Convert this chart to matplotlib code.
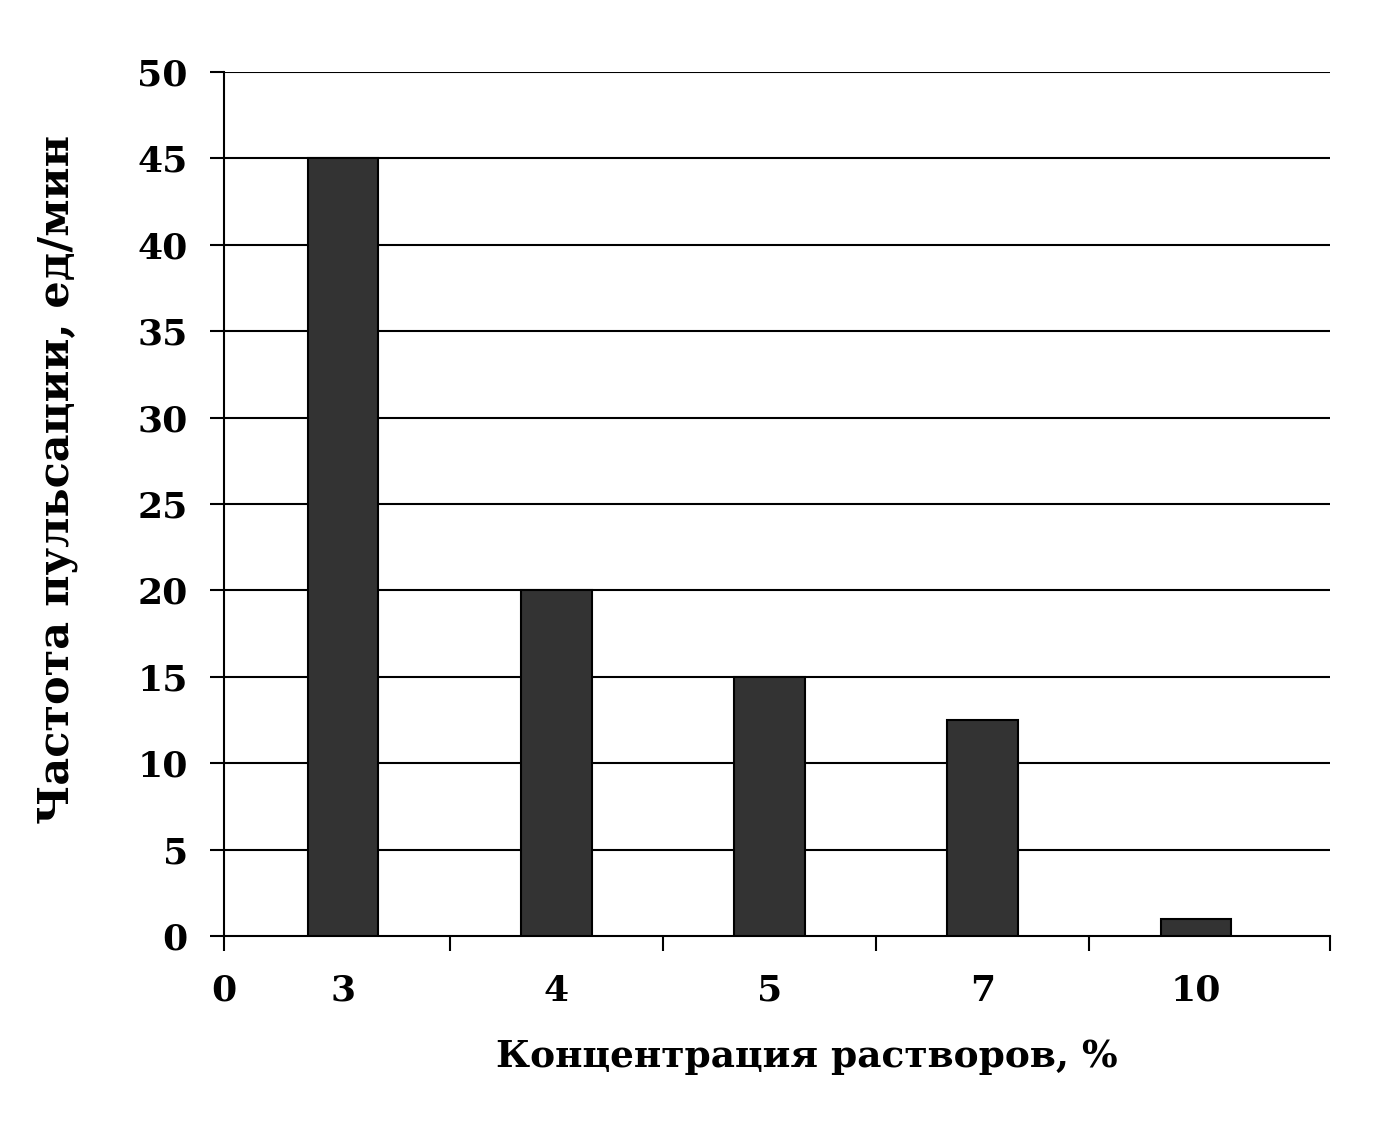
import numpy as np
import matplotlib
matplotlib.use('Agg')
import matplotlib.pyplot as plt

# Данные
концентрации = ['3', '4', '5', '7', '10']
частота = [45, 20, 15, 12.5, 1]
деления_y = list(range(0, 55, 5))

plt.rcParams['font.family'] = ['DejaVu Serif']

fig = plt.figure(figsize=(13.86, 11.35), dpi=100)
ax = fig.add_axes([0.1616, 0.1753, 0.9596 - 0.1616, 0.9366 - 0.1753])

x = np.arange(len(концентрации))
ax.bar(x, частота, width=0.33, color='#333333', edgecolor='black', linewidth=1.5, zorder=3)

esq, dir_ = -0.56, 4.63
ax.set_xlim(esq, dir_)
ax.set_ylim(0, 50)

# Горизонтальная сетка
for y in деления_y[1:]:
    ax.axhline(y, color='black', linewidth=1.5, zorder=1)

# Деления оси X: границы категорий, подписи по центру
ax.set_xticks([esq] + list(x[:-1] + 0.5) + [dir_])
ax.set_xticklabels(['0', '', '', '', '', ''])
ax.set_xticks(x, minor=True)
ax.set_xticklabels(концентрации, minor=True)
ax.tick_params(axis='x', which='major', direction='out', length=11, width=1.5, pad=16, labelsize=26)
ax.tick_params(axis='x', which='minor', length=0, pad=27, labelsize=26)

ax.set_yticks(деления_y)
ax.tick_params(axis='y', direction='out', length=10, width=1.5, pad=16, labelsize=26)

for t in ax.get_xticklabels(which='both') + ax.get_yticklabels():
    t.set_fontweight('bold')

for s in ['top', 'right']:
    ax.spines[s].set_visible(False)
for s in ['left', 'bottom']:
    ax.spines[s].set_linewidth(1.5)

ax.set_xlabel('Концентрация растворов, %', fontsize=27, fontweight='bold')
ax.set_ylabel('Частота пульсации, ед/мин', fontsize=31, fontweight='bold')
ax.xaxis.set_label_coords(0.527, -0.118)
ax.yaxis.set_label_coords(-0.132, 0.528)

fig.savefig('out.png', dpi=100)
